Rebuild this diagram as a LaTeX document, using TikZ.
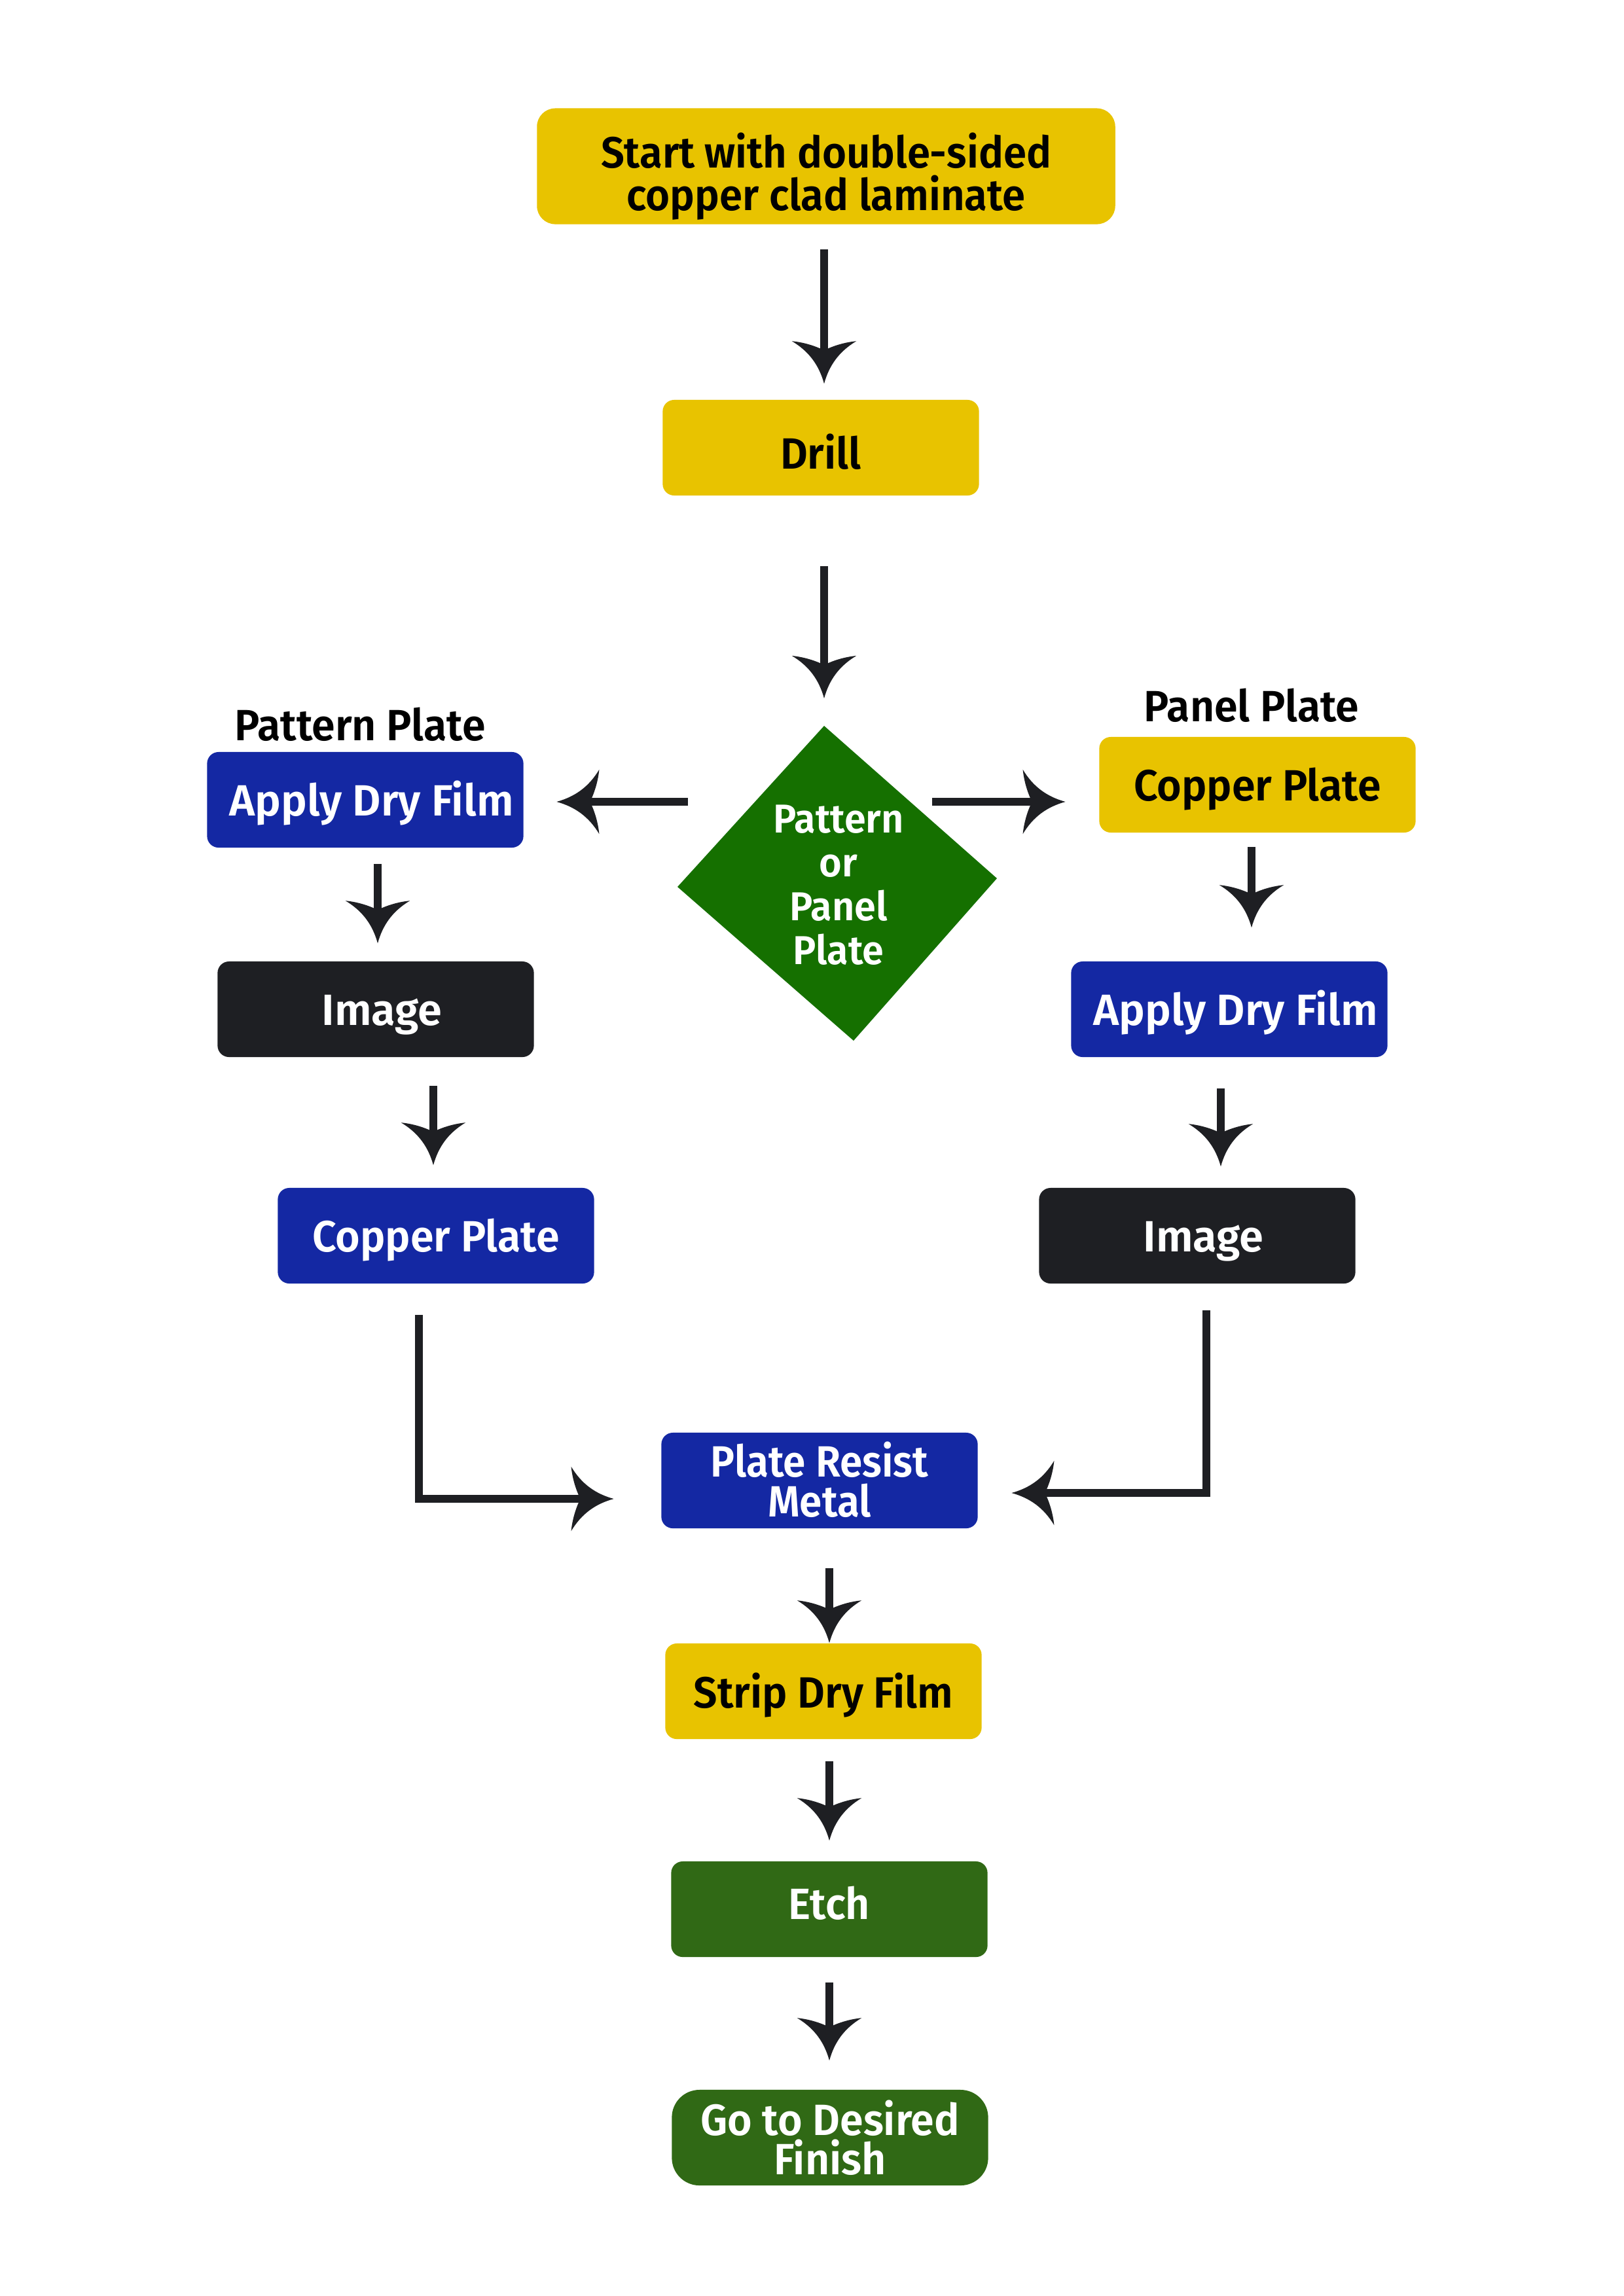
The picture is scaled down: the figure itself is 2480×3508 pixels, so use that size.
\documentclass[tikz,border=0pt]{standalone}
\usepackage{fontspec}
\setmainfont{Fira Sans SemiBold}[FakeStretch=0.965]
\newfontfamily\fwide{Fira Sans SemiBold}
\newfontfamily\fstart{Fira Sans SemiBold}[FakeStretch=0.95]
\newfontfamily\fcond{Fira Sans SemiBold}[FakeStretch=0.93]
\usetikzlibrary{arrows.meta,calc}

\definecolor{cyel}{HTML}{E8C300}
\definecolor{cblue}{HTML}{1428A3}
\definecolor{cdark}{HTML}{1E1F23}
\definecolor{cdiam}{HTML}{157000}
\definecolor{cgreen}{HTML}{306915}
\definecolor{cline}{HTML}{1E1F23}

\pgfdeclarearrow{
  name = Barb,
  setup code = {
    \pgfarrowssettipend{0pt}
    \pgfarrowssetbackend{-18.5pt}
    \pgfarrowssetlineend{-13pt}
    \pgfarrowsupperhullpoint{0pt}{0pt}
    \pgfarrowsupperhullpoint{-18.5pt}{14pt}
  },
  drawing code = {
    \pgfpathmoveto{\pgfpoint{0pt}{0pt}}
    \pgfpathcurveto{\pgfpoint{-8pt}{2.2pt}}{\pgfpoint{-14pt}{6.5pt}}{\pgfpoint{-18.5pt}{14pt}}
    \pgfpathcurveto{\pgfpoint{-18pt}{9pt}}{\pgfpoint{-16.5pt}{4pt}}{\pgfpoint{-14.5pt}{0pt}}
    \pgfpathcurveto{\pgfpoint{-16.5pt}{-4pt}}{\pgfpoint{-18pt}{-9pt}}{\pgfpoint{-18.5pt}{-14pt}}
    \pgfpathcurveto{\pgfpoint{-14pt}{-6.5pt}}{\pgfpoint{-8pt}{-2.2pt}}{\pgfpoint{0pt}{0pt}}
    \pgfpathclose
    \pgfusepathqfill
  }
}

\begin{document}
\begin{tikzpicture}[x=0.01cm,y=-0.01cm,
  box/.style={rounded corners=5pt, minimum width=4.83cm, minimum height=1.46cm,
    inner sep=0pt, align=center, text height=14.2pt, text depth=0pt,
    font=\fontsize{19}{19}\selectfont},
  ybox/.style={box, fill=cyel, text=black},
  bbox/.style={box, fill=cblue, text=white},
  kbox/.style={box, fill=cdark, text=white},
  gbox/.style={box, fill=cgreen, text=white},
  wfont/.style={font=\fwide\fontsize{19}{19}\selectfont},
  lbl/.style={inner sep=0pt, text=black, font=\fontsize{19}{19}\selectfont},
  arr/.style={draw=cline, line width=3.3pt, -{Barb}}
]
\useasboundingbox[fill=white] (0,0) rectangle (2480,3508);

% nodes
\node[ybox, minimum width=8.83cm, minimum height=1.77cm, rounded corners=8pt,
  text height=38.6pt, font=\fstart\fontsize{19}{18.7}\selectfont] (start) at (1262,254) {Start with double-sided\\copper clad laminate};
\node[ybox, text height=18.4pt] (drill) at (1254,684) {Drill};

\coordinate (dt) at (1259,1109);
\coordinate (dr) at (1523,1342);
\coordinate (db) at (1304,1590);
\coordinate (dl) at (1035,1355);
\fill[cdiam] (dt) -- (dr) -- (db) -- (dl) -- cycle;
\node[inner sep=0pt, text=white, align=center, font=\fontsize{17.5}{19}\selectfont] (dtext) at (1281,1352) {Pattern\\or\\Panel\\Plate};

\node[lbl] (plab) at (550,1107) {Pattern Plate};
\node[bbox, wfont] (ladf) at (558,1222) {\kern5.5pt Apply Dry Film};
\node[kbox, wfont] (limg) at (574,1542) {\kern5.5pt Image};
\node[bbox] (lcp) at (666,1888) {Copper Plate};

\node[lbl] (nlab) at (1912,1078) {Panel Plate};
\node[ybox] (rcp) at (1921,1199) {Copper Plate};
\node[bbox, wfont] (radf) at (1878,1542) {\kern5.5pt Apply Dry Film};
\node[kbox, wfont] (rimg) at (1829,1888) {\kern5.5pt Image};

\node[bbox, text height=31.8pt, font=\fcond\fontsize{19}{17.6}\selectfont] (prm) at (1252,2262) {Plate Resist\\Metal};
\node[ybox] (sdf) at (1258,2584) {Strip Dry Film};
\node[gbox, text height=9pt] (etch) at (1267,2917) {Etch};
\node[gbox, rounded corners=12pt, text height=32.3pt, font=\fontsize{19}{17.3}\selectfont] (gdf) at (1268,3266) {Go to Desired\\Finish};

\coordinate (lstart) at (1051,1225);
\coordinate (rstart) at (1424,1225);

% connectors
\draw[arr, shorten <=0.38cm, shorten >=0.24cm] ([xshift=-0.03cm]start.south) -- ([xshift=-0.03cm]start.south |- drill.north);
\draw[arr, shorten <=1.07cm, shorten >=0.42cm] (dt |- drill.south) -- (dt);
\draw[arr, shorten >=0.5cm] (lstart) -- (lstart -| ladf.east);
\draw[arr, shorten >=0.51cm] (rstart) -- (rstart -| rcp.west);

\draw[arr, shorten <=0.24cm, shorten >=0.27cm] ([xshift=0.03cm]limg.north |- ladf.south) -- ([xshift=0.03cm]limg.north);
\draw[arr, shorten <=0.43cm, shorten >=0.34cm] ([xshift=-0.04cm]lcp.north |- limg.south) -- ([xshift=-0.04cm]lcp.north);
\draw[arr, shorten <=0.47cm, shorten >=0.72cm] ([xshift=-0.26cm]lcp.south) |- ([yshift=-0.28cm]prm.west);

\draw[arr, shorten <=0.21cm, shorten >=0.51cm] ([xshift=-0.09cm]rcp.south) -- ([xshift=-0.09cm]rcp.south |- radf.north);
\draw[arr, shorten <=0.47cm, shorten >=0.32cm] ([xshift=-0.13cm]radf.south) -- ([xshift=-0.13cm]radf.south |- rimg.north);
\draw[arr, shorten <=0.40cm, shorten >=0.51cm] ([xshift=0.14cm]rimg.south) |- ([yshift=-0.19cm]prm.east);

\draw[arr, shorten <=0.60cm, shorten >=0cm] (etch.north |- prm.south) -- (etch.north |- sdf.north);
\draw[arr, shorten <=0.33cm, shorten >=0.31cm] (etch.north |- sdf.south) -- (etch.north);
\draw[arr, shorten <=0.38cm, shorten >=0.44cm] (etch.south) -- (etch.south |- gdf.north);
\end{tikzpicture}
\end{document}
